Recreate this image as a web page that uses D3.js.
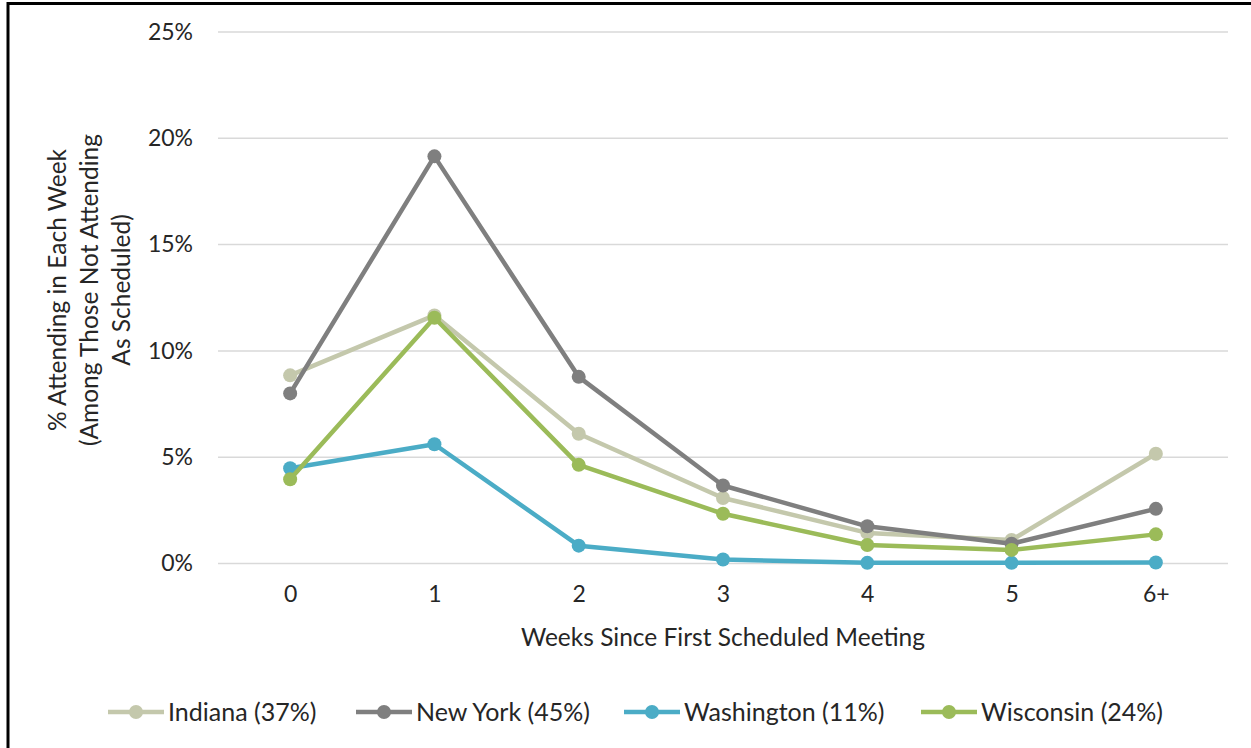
<!DOCTYPE html>
<html>
<head>
<meta charset="utf-8">
<script src="https://cdn.jsdelivr.net/npm/d3@7"></script>
<style>
  html, body { margin: 0; padding: 0; background: #fff; }
  svg { display: block; }
  text { font-family: Lato, "Open Sans", sans-serif; fill: #262626; }
</style>
</head>
<body>
<svg id="chart" width="1251" height="748"></svg>
<script>
// Weeks since the first scheduled meeting
const weeks = ["0", "1", "2", "3", "4", "5", "6+"];

// Share attending in each week, among those not attending as scheduled
const indiana    = [0.0885, 0.1167, 0.0610, 0.0308, 0.0144, 0.0111, 0.0516];
const newYork    = [0.0800, 0.1915, 0.0878, 0.0367, 0.0175, 0.0093, 0.0257];
const washington = [0.0448, 0.0561, 0.0084, 0.0019, 0.0003, 0.0003, 0.0005];
const wisconsin  = [0.0396, 0.1156, 0.0464, 0.0234, 0.0087, 0.0064, 0.0137];

const seriesNames  = ["Indiana (37%)", "New York (45%)", "Washington (11%)", "Wisconsin (24%)"];
const seriesColors = ["#c4c8ac", "#7f7f7f", "#4bacc6", "#9bbb59"];
const seriesValues = [indiana, newYork, washington, wisconsin];

const yTicks = [0, 0.05, 0.10, 0.15, 0.20, 0.25];

const svg = d3.select("#chart");

// Frame around the chart
svg.append("rect")
  .attr("x", 8).attr("y", 3.5)
  .attr("width", 1260).attr("height", 760)
  .attr("fill", "none").attr("stroke", "#000").attr("stroke-width", 3);

const plot = { left: 218, right: 1228, top: 32, bottom: 563.5 };

const x = d3.scalePoint().domain(weeks)
  .range([plot.left, plot.right]).padding(0.5);
const y = d3.scaleLinear().domain([0, 0.25])
  .range([plot.bottom, plot.top]);

// Horizontal gridlines
svg.append("g")
  .selectAll("line")
  .data(yTicks)
  .join("line")
  .attr("x1", plot.left).attr("x2", plot.right)
  .attr("y1", d => y(d)).attr("y2", d => y(d))
  .attr("stroke", "#d9d9d9").attr("stroke-width", 1.5);

// Y axis labels
const yAxis = svg.append("g")
  .attr("transform", `translate(${plot.left},0)`)
  .call(d3.axisLeft(y).tickValues(yTicks).tickFormat(d3.format(".0%")).tickSize(0).tickPadding(25));
yAxis.select(".domain").remove();
yAxis.selectAll("text")
  .style("font-family", "Lato, sans-serif")
  .style("font-size", "23px")
  .attr("fill", "#262626");

// X axis labels
const xAxis = svg.append("g")
  .attr("transform", `translate(0,${plot.bottom})`)
  .call(d3.axisBottom(x).tickSize(0).tickPadding(22));
xAxis.select(".domain").remove();
xAxis.selectAll("text")
  .style("font-family", "Lato, sans-serif")
  .style("font-size", "23px")
  .attr("fill", "#262626");

// Axis titles
svg.append("text")
  .attr("x", (plot.left + plot.right) / 2).attr("y", 646)
  .attr("text-anchor", "middle")
  .style("font-size", "24.5px")
  .text("Weeks Since First Scheduled Meeting");

const yTitle = svg.append("text")
  .attr("transform", "translate(0,290) rotate(-90)")
  .attr("text-anchor", "middle")
  .style("font-size", "24.5px");
["% Attending in Each Week", "(Among Those Not Attending", "As Scheduled)"]
  .forEach((line, i) => {
    yTitle.append("tspan").attr("x", 0).attr("y", 66 + i * 32).text(line);
  });

// Lines and markers
const lineGen = d3.line()
  .x((d, i) => x(weeks[i]))
  .y(d => y(d));

seriesValues.forEach((vals, s) => {
  const g = svg.append("g");
  g.append("path")
    .datum(vals)
    .attr("d", lineGen)
    .attr("fill", "none")
    .attr("stroke", seriesColors[s])
    .attr("stroke-width", 4.5)
    .attr("stroke-linejoin", "round");
  g.selectAll("circle")
    .data(vals)
    .join("circle")
    .attr("cx", (d, i) => x(weeks[i]))
    .attr("cy", d => y(d))
    .attr("r", 7)
    .attr("fill", seriesColors[s]);
});

// Legend
const legendX = [108, 356, 624, 921];
const legend = svg.append("g").attr("transform", "translate(0,712)");
seriesNames.forEach((name, s) => {
  const item = legend.append("g").attr("transform", `translate(${legendX[s]},0)`);
  item.append("line")
    .attr("x1", 0).attr("x2", 56).attr("y1", 0).attr("y2", 0)
    .attr("stroke", seriesColors[s]).attr("stroke-width", 4.5);
  item.append("circle")
    .attr("cx", 28).attr("cy", 0).attr("r", 7)
    .attr("fill", seriesColors[s]);
  item.append("text")
    .attr("x", 60).attr("y", 0).attr("dy", "0.35em")
    .style("font-size", "25px")
    .text(name);
});
</script>
</body>
</html>
